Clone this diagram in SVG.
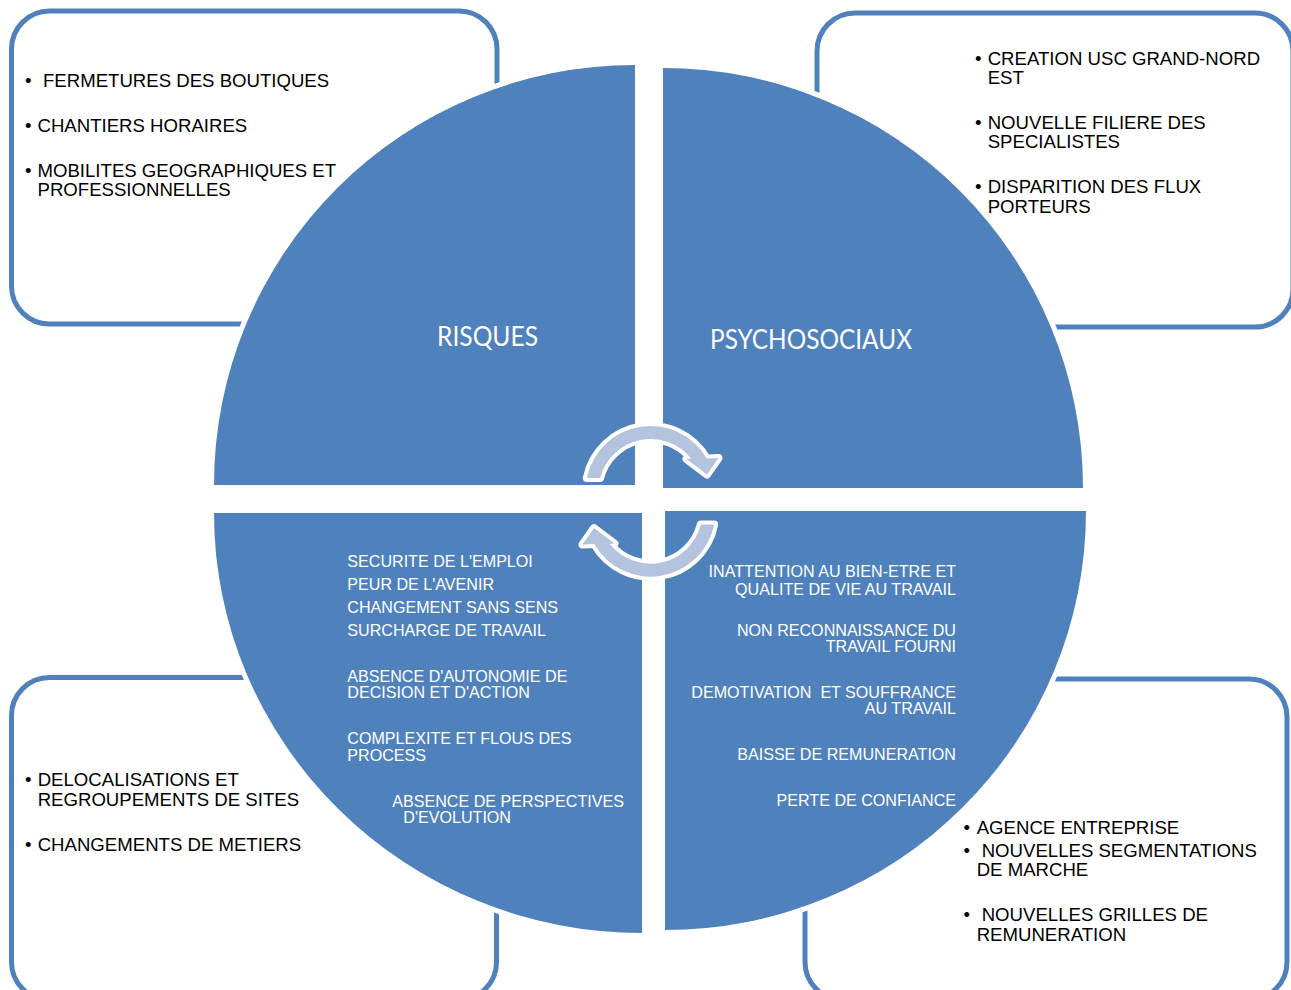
<svg xmlns="http://www.w3.org/2000/svg" width="1291" height="990" viewBox="0 0 1291 990">
  <style>
    .box { fill: #ffffff; stroke: #4f81bd; stroke-width: 5; }
    .halo { fill: none; stroke: #ffffff; stroke-width: 10; stroke-linejoin: round; }
    .quad { fill: #4f81bd; }
    .dark { font-family: "Liberation Sans", Arial, sans-serif; font-size: 18.6px; fill: #000000; }
    .light { font-family: "Liberation Sans", Arial, sans-serif; font-size: 16.1px; fill: #ffffff; }
    .right { text-anchor: end; }
    .title { font-family: Lato, "Open Sans", sans-serif; font-size: 26px; fill: #ffffff; }
    .cyc { fill: #b4c4de; stroke: #ffffff; stroke-width: 8; stroke-linejoin: round; paint-order: stroke; }
  </style>
  <defs>
    <!-- one curved arrow of the cycle, clockwise over the top -->
    <path id="cycle-arrow" d="M 586.8,478 A 65 65 0 0 1 706.8,458.5 L 718.5,458 L 707,474.5 L 686.5,459 L 691.1,458.5 A 52 52 0 0 0 600.15,478 Z"/>
  </defs>

  <rect width="1291" height="990" fill="#ffffff"/>

  <!-- outer boxes -->
  <g id="box-top-left">
    <rect class="box" x="11.5" y="11" width="485.5" height="313" rx="38" ry="38"/>
    <text class="dark">
      <tspan x="25" y="87.3">•</tspan><tspan x="43" y="87.3">FERMETURES DES BOUTIQUES</tspan>
      <tspan x="25" y="131.7">•</tspan><tspan x="37.5" y="131.7">CHANTIERS HORAIRES</tspan>
      <tspan x="25" y="176.7">•</tspan><tspan x="37.5" y="176.7">MOBILITES GEOGRAPHIQUES ET</tspan>
      <tspan x="37.5" y="196">PROFESSIONNELLES</tspan>
    </text>
  </g>
  <g id="box-top-right">
    <rect class="box" x="817" y="13" width="476" height="314" rx="38" ry="38"/>
    <text class="dark">
      <tspan x="975" y="65">•</tspan><tspan x="987.7" y="65">CREATION USC GRAND-NORD</tspan>
      <tspan x="987.7" y="84">EST</tspan>
      <tspan x="975" y="129.3">•</tspan><tspan x="987.7" y="129.3">NOUVELLE FILIERE DES</tspan>
      <tspan x="987.7" y="148.3">SPECIALISTES</tspan>
      <tspan x="975" y="193.3">•</tspan><tspan x="987.7" y="193.3">DISPARITION DES FLUX</tspan>
      <tspan x="987.7" y="212.7">PORTEURS</tspan>
    </text>
  </g>
  <g id="box-bottom-left">
    <rect class="box" x="11.5" y="677.5" width="485" height="322.5" rx="38" ry="38"/>
    <text class="dark">
      <tspan x="25" y="786">•</tspan><tspan x="37.7" y="786">DELOCALISATIONS ET</tspan>
      <tspan x="37.7" y="806">REGROUPEMENTS DE SITES</tspan>
      <tspan x="25" y="851">•</tspan><tspan x="37.7" y="851">CHANGEMENTS DE METIERS</tspan>
    </text>
  </g>
  <g id="box-bottom-right">
    <rect class="box" x="805" y="679" width="482" height="321" rx="38" ry="38"/>
    <text class="dark">
      <tspan x="963.5" y="834">•</tspan><tspan x="976.7" y="834">AGENCE ENTREPRISE</tspan>
      <tspan x="963.5" y="856.7">•</tspan><tspan x="981.7" y="856.7">NOUVELLES SEGMENTATIONS</tspan>
      <tspan x="976.7" y="875.7">DE MARCHE</tspan>
      <tspan x="963.5" y="920.7">•</tspan><tspan x="981.7" y="920.7">NOUVELLES GRILLES DE</tspan>
      <tspan x="976.7" y="940.7">REMUNERATION</tspan>
    </text>
  </g>

  <!-- quarter discs of the central circle -->
  <g id="quadrant-risques">
    <path class="halo" d="M 635,65 L 635,485 L 214,485 A 421 420 0 0 1 635,65 Z"/>
    <path class="quad" d="M 635,65 L 635,485 L 214,485 A 421 420 0 0 1 635,65 Z"/>
    <text class="title" x="437" y="346" textLength="101" lengthAdjust="spacingAndGlyphs">RISQUES</text>
  </g>
  <g id="quadrant-psychosociaux">
    <path class="halo" d="M 663,68 L 663,488 L 1083,488 A 420 420 0 0 0 663,68 Z"/>
    <path class="quad" d="M 663,68 L 663,488 L 1083,488 A 420 420 0 0 0 663,68 Z"/>
    <text class="title" x="710" y="349" textLength="202" lengthAdjust="spacingAndGlyphs">PSYCHOSOCIAUX</text>
  </g>
  <g id="quadrant-causes">
    <path class="halo" d="M 642,513 L 214,513 A 428 420 0 0 0 642,933 Z"/>
    <path class="quad" d="M 642,513 L 214,513 A 428 420 0 0 0 642,933 Z"/>
    <text class="light">
      <tspan x="347.3" y="567.3">SECURITE DE L'EMPLOI</tspan>
      <tspan x="347.3" y="590">PEUR DE L'AVENIR</tspan>
      <tspan x="347.3" y="613.3">CHANGEMENT SANS SENS</tspan>
      <tspan x="347.3" y="636">SURCHARGE DE TRAVAIL</tspan>
      <tspan x="347.3" y="681.7">ABSENCE D'AUTONOMIE DE</tspan>
      <tspan x="347.3" y="697.7">DECISION ET D'ACTION</tspan>
      <tspan x="347.3" y="744">COMPLEXITE ET FLOUS DES</tspan>
      <tspan x="347.3" y="760.7">PROCESS</tspan>
      <tspan x="392.3" y="806.7">ABSENCE DE PERSPECTIVES</tspan>
      <tspan x="403.3" y="823.3">D'EVOLUTION</tspan>
    </text>
  </g>
  <g id="quadrant-effets">
    <path class="halo" d="M 665,511 L 665,930 A 421 419 0 0 0 1086,511 Z"/>
    <path class="quad" d="M 665,511 L 665,930 A 421 419 0 0 0 1086,511 Z"/>
    <text class="light right" xml:space="preserve"><tspan x="956" y="576.7">INATTENTION AU BIEN-ETRE ET</tspan><tspan x="956" y="595">QUALITE DE VIE AU TRAVAIL</tspan><tspan x="956" y="635.5">NON RECONNAISSANCE DU</tspan><tspan x="956" y="651.5">TRAVAIL FOURNI</tspan><tspan x="956" y="697.7">DEMOTIVATION  ET SOUFFRANCE</tspan><tspan x="956" y="714.3">AU TRAVAIL</tspan><tspan x="956" y="760">BAISSE DE REMUNERATION</tspan><tspan x="956" y="806">PERTE DE CONFIANCE</tspan></text>
  </g>

  <!-- cycle arrows in the centre -->
  <g id="connectors">
    <use href="#cycle-arrow" class="cyc"/>
    <use href="#cycle-arrow" class="cyc" transform="rotate(180 650.5 501.3)"/>
  </g>
</svg>
